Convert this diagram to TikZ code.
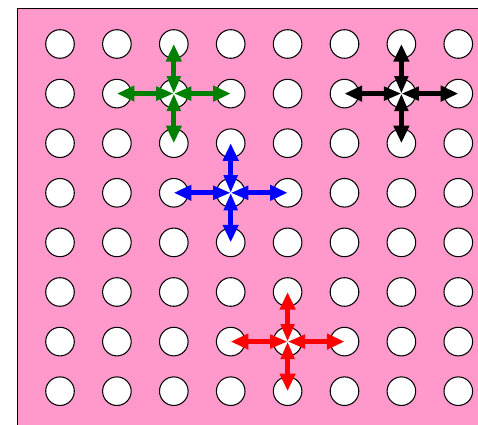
\documentclass[tikz,border=0pt]{standalone}
\usetikzlibrary{arrows.meta}
\definecolor{sheetpink}{RGB}{255,153,204}
\definecolor{dkgreen}{RGB}{0,128,0}

\begin{document}
\begin{tikzpicture}[x=0.02cm,y=-0.02cm,
  hole/.style={circle,draw=black,fill=white,line width=0.6pt,
               minimum size=0.572cm,inner sep=0pt},
  move/.style={{Triangle[length=10pt,width=7.5pt]}-{Triangle[length=10pt,width=8.5pt]},
               line width=2.7pt},
]
\useasboundingbox (0,0) rectangle (478,425);
\clip (0,0) rectangle (478,425);

% === sheet ===
\draw[fill=sheetpink,line width=0.5pt] (17,8) rectangle (500,450);

% === grid of holes ===
\foreach \i in {1,...,8}
  \foreach \j in {1,...,8}
    \node[hole] (c-\i-\j) at ({60+56.9*(\i-1)},{44+49.6*(\j-1)}) {};

% === moves ===
\foreach \i/\j/\col in {3/2/dkgreen,7/2/black,4/4/blue,5/7/red}{
  \pgfmathtruncatemacro{\il}{\i-1}
  \pgfmathtruncatemacro{\ir}{\i+1}
  \pgfmathtruncatemacro{\ju}{\j-1}
  \pgfmathtruncatemacro{\jd}{\j+1}
  \draw[move,\col] (c-\i-\j.center) -- (c-\il-\j.center);
  \draw[move,\col] (c-\i-\j.center) -- (c-\ir-\j.center);
  \draw[move,\col] (c-\i-\j.center) -- (c-\i-\ju.center);
  \draw[move,\col] (c-\i-\j.center) -- (c-\i-\jd.center);
}

\end{tikzpicture}
\end{document}
